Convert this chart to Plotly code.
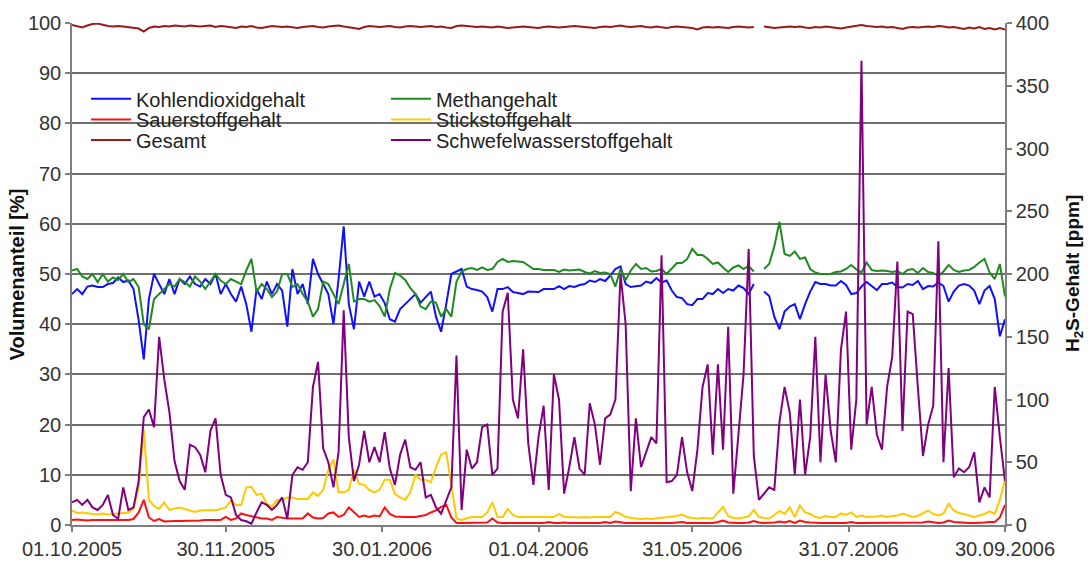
import pandas as pd
import plotly.graph_objects as go

# Gas composition of the biogas plant, one reading every second day (01.10.2005 - 30.09.2006)
dates = pd.date_range("2005-10-01", "2006-09-30", freq="2D")

# Kohlendioxidgehalt [%]
co2 = [46, 47, 46, 47.5, 47.7, 47.4, 47.4, 48, 48.2, 49.3,
       48.4, 48.7, 47, 40.8, 33, 45, 50, 48, 46, 49,
       46, 49, 48, 49.5, 48, 47.5, 49, 48, 50, 46,
       48, 46, 44.5, 47.5, 44, 38.5, 47, 45, 48.5, 46,
       48, 46.7, 39.5, 51, 46, 48, 44, 53, 50, 48,
       46, 40, 49, 59.5, 44, 39, 48.5, 45.5, 48.5, 45.5,
       46, 44.2, 41, 40.5, 43, 44, 45, 46, 44.3, 45.5,
       46.5, 41.5, 38.5, 44, 50, 50.5, 51, 47.5, 47, 46.8,
       46.5, 45.4, 42.5, 47, 47, 47.4, 46.4, 46.2, 46, 46.5,
       46.5, 46.4, 47, 47, 47, 47.6, 47, 47.6, 47.4, 47.8,
       48, 48.7, 48.4, 49, 48.6, 49.7, 51, 51.5, 48, 47.4,
       47.6, 47.7, 48.5, 48.2, 49.2, 48.3, 48.7, 46.7, 45.4, 45.2,
       44, 43.8, 45, 45, 46.2, 46, 47, 46.2, 47, 46.7,
       47.7, 47.2, 46, 48, None, 46.5, 45.6, 41.5, 39, 42.5,
       43.5, 44, 41, 44, 46.5, 48.4, 48, 48, 47.7, 47.7,
       48.6, 47.8, 46, 46.2, 47.5, 48.4, 47.6, 46.8, 48, 48,
       48.3, 47.4, 47.3, 48, 47.8, 48.6, 47, 47.6, 47.5, 48.3,
       47.6, 44.5, 46.5, 47.7, 48, 47.7, 46.7, 44, 46.7, 47.6,
       45, 37.6, 41]

# Methangehalt [%]
ch4 = [50.7, 51, 49.5, 49, 50, 48.4, 50, 48.5, 49.3, 48.8,
       50, 48.4, 49, 47.4, 40, 39, 45, 46, 47, 48,
       47.5, 49, 48.4, 47.5, 49.5, 48.5, 47, 48.5, 50, 48.7,
       48, 49, 48.5, 48, 50.7, 53, 46.5, 48, 47, 45.4,
       46.5, 50, 50, 47.4, 48, 46, 44.5, 41.5, 43, 48.5,
       48, 46, 44, 48, 52, 44.5, 45, 45, 44.5, 44.8,
       43.6, 41.5, 47, 50.2, 49.7, 48.8, 47.2, 46, 43.5, 43,
       44.5, 44.3, 41.5, 43, 41.5, 48.5, 50.5, 51, 51.2, 50.8,
       51.3, 50.8, 51, 52.4, 53, 52.4, 52.6, 52.5, 52.4, 51.7,
       51, 51, 50.8, 50.8, 50.8, 50.4, 50.9, 50.7, 50.8, 50.9,
       50.4, 50.1, 50.6, 50.2, 50.3, 50, 47.5, 51, 48.8, 50.7,
       52, 51, 51.2, 50.5, 50.6, 51, 50, 51, 52.2, 52.2,
       53, 55, 53.8, 53.8, 53, 52, 52.3, 51.3, 50.4, 51.3,
       51.7, 51, 51.6, 50.5, None, 51, 52, 55.5, 60.4, 54,
       53.6, 54.5, 53, 53.3, 51, 50.3, 50, 50, 50, 50.4,
       50.5, 51, 51.8, 50.9, 50.3, 52.3, 50.8, 50.6, 50.7, 50.6,
       50.4, 50.6, 50, 50.8, 51, 50.2, 51.2, 50.4, 50.2, 49.6,
       50.5, 51.8, 50.8, 50.4, 50.7, 50.8, 51.4, 52.3, 53, 50.3,
       49, 52, 45.5]

# Sauerstoffgehalt [%]
o2 = [1.0, 1.1, 1.0, 0.9, 1.0, 1.0, 1.1, 1.0, 1.0, 1.0,
      1.0, 1.0, 1.2, 2.5, 5.0, 1.5, 0.8, 1.2, 0.7, 0.8,
      0.8, 0.8, 0.8, 0.8, 0.9, 0.9, 1.0, 1.0, 1.0, 1.0,
      1.6, 1.0, 1.3, 2.3, 2.0, 1.8, 1.6, 1.3, 1.3, 1.0,
      1.6, 1.4, 1.3, 1.3, 1.3, 1.3, 2.3, 1.5, 1.3, 1.4,
      2.3, 2.5, 1.6, 2.0, 3.5, 2.5, 1.6, 1.9, 1.6, 1.9,
      1.7, 3.5, 2.2, 1.7, 1.6, 1.6, 1.6, 1.6, 1.8, 2.0,
      2.5, 2.9, 3.6, 4.0, 1.5, 0.4, 0.4, 0.4, 0.4, 0.4,
      0.4, 0.5, 1.3, 0.5, 0.4, 0.4, 0.4, 0.4, 0.4, 0.4,
      0.4, 0.5, 0.4, 0.6, 0.4, 0.4, 0.5, 0.4, 0.4, 0.4,
      0.5, 0.4, 0.4, 0.4, 0.6, 0.4, 0.7, 0.5, 0.4, 0.4,
      0.4, 0.3, 0.4, 0.4, 0.3, 0.4, 0.4, 0.4, 0.5, 0.6,
      0.4, 0.4, 0.3, 0.4, 0.4, 0.4, 0.6, 0.9, 0.5, 0.4,
      0.4, 0.4, 0.5, 0.8, 0.5, 0.4, 0.4, 0.5, 0.7, 0.5,
      0.8, 0.4, 0.9, 0.6, 0.5, 0.4, 0.4, 0.4, 0.4, 0.4,
      0.5, 0.4, 0.6, 0.4, 0.4, 0.4, 0.4, 0.4, 0.5, 0.4,
      0.4, 0.4, 0.5, 0.4, 0.4, 0.4, 0.5, 0.7, 0.5, 0.4,
      0.5, 0.9, 0.6, 0.5, 0.4, 0.4, 0.4, 0.4, 0.5, 0.6,
      0.6, 1.5, 4.0]

# Stickstoffgehalt [%]
n2 = [2.9, 2.4, 2.5, 2.4, 2.3, 2.1, 2.3, 2.1, 2.2, 2.3,
      2.3, 2.5, 3.2, 7.5, 19, 5, 3.8, 3.2, 4.5, 3,
      3.3, 3.5, 3.2, 2.9, 2.6, 2.9, 3, 3, 2.9, 3.2,
      3.5, 4.9, 4, 4, 7.5, 7.6, 6, 6.2, 4.2, 3.6,
      5, 4.9, 5.5, 5.5, 5.2, 5.2, 5.2, 6.5, 5.8, 7,
      11, 13, 6.5, 6.5, 7, 11, 8.2, 8, 7, 6.5,
      7, 9, 9, 6.2, 5.5, 5, 6.5, 10, 9, 9,
      8.5, 11.5, 14, 14.5, 8, 1.3, 1, 1.3, 1.6, 1.6,
      1.6, 2.5, 4.5, 1.6, 1.6, 3.2, 2, 1.6, 1.6, 1.6,
      1.6, 1.6, 1.6, 1.6, 1.6, 2.2, 1.6, 1.6, 1.5, 1.5,
      1.6, 1.5, 1.6, 1.6, 1.5, 1.6, 2.6, 2.2, 1.6, 1.4,
      1.3, 1.2, 1.3, 1.2, 1.3, 1.4, 1.5, 1.6, 1.8, 2.1,
      1.6, 1.4, 1.3, 1.4, 1.3, 1.3, 2.5, 3.6, 1.8, 1.4,
      1.3, 1.5, 1.7, 3, 1.6, 1.4, 1.3, 2, 2.8, 2.2,
      3.5, 1.6, 3.9, 2.5, 2.2, 1.6, 1.4, 1.8, 1.6, 1.6,
      2.3, 2, 2.5, 1.6, 1.9, 1.6, 1.6, 1.7, 1.9, 1.6,
      1.8, 1.9, 2.3, 1.9, 1.6, 1.8, 2.3, 2.9, 2.2, 1.9,
      2.3, 4.2, 2.9, 2.4, 2.2, 1.9, 1.6, 1.9, 2.2, 2.7,
      2.2, 5, 9]

# Gesamt [%]
total = [99.6, 99.3, 99.1, 99.5, 99.8, 99.9, 99.6, 99.4, 99.3, 99.4,
         99.3, 99.2, 99.1, 98.9, 98.3, 99.0, 99.3, 99.2, 99.4, 99.3,
         99.5, 99.4, 99.3, 99.5, 99.4, 99.3, 99.4, 99.5, 99.2, 99.4,
         99.3, 99.2, 99.0, 99.3, 99.2, 99.4, 99.1, 99.0, 99.2, 99.4,
         99.3, 99.2, 99.3, 99.1, 99.0, 99.2, 99.3, 99.4, 99.2, 99.1,
         99.3, 99.4, 99.5, 99.3, 99.2, 99.0, 98.8, 99.2, 99.4, 99.3,
         99.2, 99.3, 99.4, 99.2, 99.1, 99.3, 99.4, 99.3, 99.2, 99.3,
         99.4, 99.2, 99.3, 99.1, 99.0, 99.4, 99.5, 99.4, 99.3, 99.2,
         99.3, 99.2, 99.1, 99.3, 99.2, 99.0, 99.1, 99.2, 99.3, 99.2,
         99.1, 99.0, 99.2, 99.3, 99.2, 99.1, 99.2, 99.3, 99.4, 99.3,
         99.2, 99.1, 99.0, 99.2, 99.3, 99.2, 99.4, 99.5, 99.3, 99.2,
         99.3, 99.4, 99.2, 99.1, 99.3, 99.2, 99.0, 99.2, 99.3, 99.2,
         99.1, 99.0, 98.7, 99.1, 99.2, 99.1, 99.2, 99.1, 99.0, 99.2,
         99.3, 99.2, 99.1, 99.2, None, 99.3, 99.1, 99.0, 99.1, 99.2,
         99.3, 99.2, 99.3, 99.1, 99.0, 99.2, 99.1, 99.3, 99.2, 99.0,
         98.9, 99.1, 99.3, 99.5, 99.6, 99.4, 99.3, 99.2, 99.3, 99.1,
         99.2, 99.0, 98.8, 99.1, 99.2, 99.1, 99.2, 99.3, 99.2, 99.4,
         99.3, 99.1, 99.2, 99.0, 98.8, 99.1, 98.9, 99.2, 98.8, 99.0,
         98.7, 99.0, 98.7]

# Schwefelwasserstoffgehalt [ppm]
h2s = [18, 20, 16, 20, 14, 12, 16, 24, 8, 5,
       30, 12, 14, 35, 86, 92, 78, 150, 116, 90,
       51, 35, 28, 64, 62, 56, 42, 75, 85, 40,
       24, 22, 8, 4, 3, 1, 10, 18, 16, 12,
       16, 22, 5, 40, 46, 44, 50, 110, 130, 61,
       50, 30, 58, 171, 70, 35, 48, 75, 50, 62,
       50, 74, 45, 32, 56, 68, 46, 44, 50, 22,
       24, 14, 9, 20, 30, 135, 12, 60, 45, 50,
       78, 80, 40, 45, 170, 185, 100, 85, 140, 65,
       32, 70, 95, 28, 120, 100, 25, 46, 70, 45,
       40, 97, 80, 48, 85, 88, 100, 200, 160, 27,
       85, 46, 58, 70, 65, 215, 34, 35, 40, 70,
       42, 27, 60, 110, 128, 56, 128, 60, 158, 25,
       72, 120, 220, 55, 20, 25, 30, 28, 82, 110,
       90, 40, 100, 40, 70, 150, 50, 120, 75, 50,
       140, 170, 60, 100, 370, 80, 110, 72, 60, 110,
       134, 210, 75, 170, 168, 110, 55, 80, 95, 226,
       50, 125, 38, 45, 42, 46, 58, 18, 30, 22,
       110, 70, 35]

tick_dates = ["2005-10-01", "2005-11-30", "2006-01-30", "2006-04-01",
              "2006-05-31", "2006-07-31", "2006-09-30"]
tick_labels = ["01.10.2005", "30.11.2005", "30.01.2006", "01.04.2006",
               "31.05.2006", "31.07.2006", "30.09.2006"]
pct_ticks = list(range(0, 101, 10))
ppm_ticks = list(range(0, 401, 50))

FONT = "Liberation Sans, Arial, sans-serif"
AXIS_GREY = "#7f7f7f"
GRID_GREY = "#6f6f6f"
TICK_FONT = dict(size=20, color="#333333", family=FONT)

fig = go.Figure()

# one legend box per entry so that the two columns of three rows sit tightly
col_x = [0.015, 0.3365]
row_y = [0.849, 0.808, 0.767]
series = [
    # name, values, colour, legend id, (column, row), y-axis
    ("Stickstoffgehalt", n2, "#ffc800", "legend5", (1, 1), "y"),
    ("Sauerstoffgehalt", o2, "#ff1010", "legend2", (0, 1), "y"),
    ("Gesamt", total, "#991a1a", "legend3", (0, 2), "y"),
    ("Kohlendioxidgehalt", co2, "#1010ff", "legend", (0, 0), "y"),
    ("Methangehalt", ch4, "#1f8a1f", "legend4", (1, 0), "y"),
    ("Schwefelwasserstoffgehalt", h2s, "#800080", "legend6", (1, 2), "y2"),
]
legend_boxes = {}
for name, vals, col, leg, (c, r), yax in series:
    fig.add_trace(go.Scatter(
        x=dates, y=vals, name=name, mode="lines",
        line=dict(color=col, width=2),
        legend=leg, yaxis=yax, connectgaps=False,
    ))
    legend_boxes[leg] = dict(
        x=col_x[c], y=row_y[r], xanchor="left", yanchor="middle",
        bgcolor="rgba(0,0,0,0)", itemwidth=40,
        font=dict(size=20, color="#222222", family=FONT),
    )

fig.update_layout(
    width=1088, height=572,
    margin=dict(l=72, r=83, t=20, b=42),
    paper_bgcolor="white", plot_bgcolor="white",
    font=dict(family=FONT, size=20, color="#333333"),
    showlegend=True,
    xaxis=dict(
        range=["2005-10-01", "2006-09-30"],
        tickvals=tick_dates, ticktext=tick_labels,
        ticks="outside", ticklen=5, tickcolor=AXIS_GREY, tickwidth=1.5,
        showline=True, linecolor=AXIS_GREY, linewidth=1.5,
        showgrid=False, zeroline=False, tickfont=TICK_FONT,
    ),
    yaxis=dict(
        range=[0, 100], tickvals=pct_ticks,
        ticks="outside", ticklen=5, tickcolor=AXIS_GREY, tickwidth=1.5,
        showline=True, linecolor=AXIS_GREY, linewidth=1.5,
        showgrid=True, gridcolor=GRID_GREY, gridwidth=1.5,
        zeroline=False, tickfont=TICK_FONT,
    ),
    yaxis2=dict(
        range=[0, 400], tickvals=ppm_ticks,
        overlaying="y", side="right", anchor="x",
        ticks="outside", ticklen=5, tickcolor=AXIS_GREY, tickwidth=1.5,
        showline=True, linecolor=AXIS_GREY, linewidth=1.5,
        showgrid=False, zeroline=False, tickfont=TICK_FONT,
    ),
    yaxis3=dict(
        range=[0, 400], tickvals=ppm_ticks,
        overlaying="y", side="right", anchor="x",
        ticks="inside", ticklen=5, tickcolor=AXIS_GREY, tickwidth=1.5,
        showticklabels=False, showline=False,
        showgrid=False, zeroline=False,
    ),
    **legend_boxes,
)

# white panel behind the legend entries
fig.add_shape(type="rect", xref="paper", yref="paper",
              x0=0.002, x1=0.668, y0=0.735, y1=0.88,
              fillcolor="white", line=dict(width=0), layer="between")

# axis titles
fig.add_annotation(text="<b>Volumenanteil [%]</b>", xref="paper", yref="paper",
                   x=-0.0585, y=0.5, xanchor="center", yanchor="middle",
                   textangle=-90, showarrow=False,
                   font=dict(size=20, color="#111111", family=FONT))
fig.add_annotation(text="<b>H<sub>2</sub>S-Gehalt [ppm]</b>", xref="paper", yref="paper",
                   x=1.074, y=0.5, xanchor="center", yanchor="middle",
                   textangle=-90, showarrow=False,
                   font=dict(size=19, color="#111111", family=FONT))

fig.write_html("out.html")
